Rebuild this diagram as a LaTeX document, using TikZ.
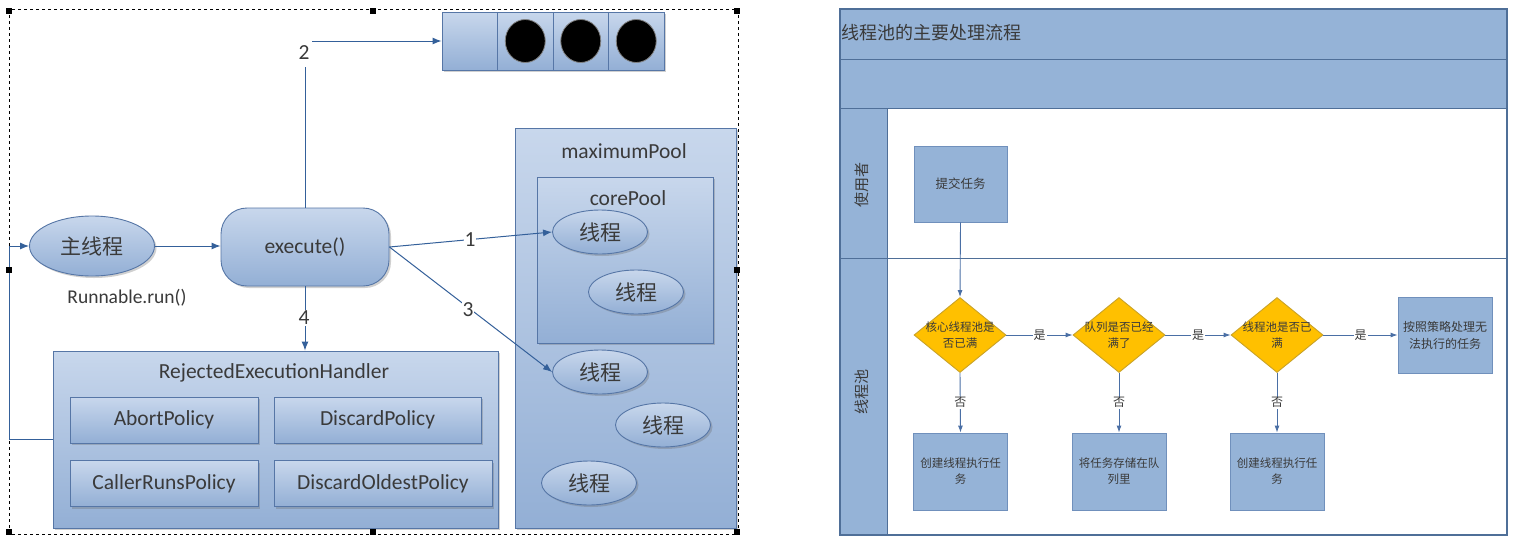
\documentclass[tikz,border=0pt]{standalone}
\usepackage{fontspec}
\setmainfont{Carlito}
\newfontfamily\cjk{Noto Sans CJK SC}
\usetikzlibrary{shapes.geometric,arrows.meta,shadows}
\definecolor{lt}{HTML}{C8D7EC}
\definecolor{dk}{HTML}{93AFD5}
\definecolor{bordc}{HTML}{5676A6}
\definecolor{arrc}{HTML}{34609A}
\definecolor{txtc}{HTML}{3A3A3A}
\definecolor{band}{HTML}{95B3D7}
\definecolor{bandb}{HTML}{4F6F98}
\definecolor{rbox}{HTML}{95B3D7}
\definecolor{rboxb}{HTML}{7090BC}
\definecolor{amber}{HTML}{FFC000}
\definecolor{amberb}{HTML}{C9A227}
\definecolor{rarr}{HTML}{4A6FA5}
\begin{document}
\begin{tikzpicture}[x=1pt,y=-1pt,
  shd/.style={drop shadow={shadow xshift=2pt,shadow yshift=-2pt,opacity=0.3,fill=black!60}},
  lfont/.style={font=\fontsize{21.5}{24}\selectfont},
  bbox/.style={draw=bordc,line width=0.9pt,top color=lt,bottom color=dk,shd,text=txtc,inner sep=0pt},
  lbox/.style={bbox,rectangle,lfont},
  thr/.style={bbox,ellipse,minimum width=95pt,minimum height=44pt,font=\cjk\fontsize{21}{24}\selectfont},
  arr/.style={draw=arrc,line width=1pt,-{Latex[length=9pt,width=7pt]}},
  num/.style={fill=white,text=txtc,lfont,inner sep=1pt},
  handle/.style={fill=black,minimum size=6pt,inner sep=0pt},
  ball/.style={ellipse,fill=black,draw=black!50,line width=0.8pt,minimum width=40pt,minimum height=43pt,inner sep=0pt},
  rb/.style={rectangle,fill=rbox,draw=rboxb,line width=0.9pt,text=txtc,align=center,inner sep=2pt,font=\cjk\fontsize{11.5}{16}\selectfont},
  dia/.style={diamond,fill=amber,draw=amberb,line width=0.9pt,minimum width=92pt,minimum height=75pt,inner sep=0pt},
  dtxt/.style={text=txtc,align=center,font=\cjk\fontsize{11.5}{16}\selectfont},
  rarrow/.style={draw=rarr,line width=0.9pt,-{Latex[length=7pt,width=5pt]}},
  ylab/.style={fill=white,text=txtc,inner sep=1pt,font=\cjk\fontsize{12}{14}\selectfont}
]
\useasboundingbox[fill=white] (0,0) rectangle (1514,544);

% ---------- left diagram ----------
\draw[dashed,line width=0.7pt] (9,9) rectangle (738,534);

% queue
\node[bbox,minimum width=222pt,minimum height=58pt] (queue) at (553,41) {};
\node[draw=bordc,line width=0.9pt,minimum width=55.5pt,minimum height=58pt,inner sep=0pt] (q0) at (469.75,41) {};
\node[draw=bordc,line width=0.9pt,minimum width=55.5pt,minimum height=58pt,inner sep=0pt] (q1) at (525.25,41) {};
\node[draw=bordc,line width=0.9pt,minimum width=55.5pt,minimum height=58pt,inner sep=0pt] (q2) at (580.75,41) {};
\node[draw=bordc,line width=0.9pt,minimum width=55.5pt,minimum height=58pt,inner sep=0pt] (q3) at (636.25,41) {};
\node[ball] (b1) at (q1) {};
\node[ball] (b2) at (q2) {};
\node[ball] (b3) at (q3) {};

% pools
\node[bbox,minimum width=221pt,minimum height=400pt] (maxp) at (625.5,328) {};
\node[text=txtc,lfont] (maxl) at (624,151) {maximumPool};
\node[bbox,minimum width=176pt,minimum height=166pt] (core) at (625,260) {};
\node[text=txtc,lfont] (corel) at (628,198) {corePool};
\node[thr] (t1) at (600,232) {线程};
\node[thr] (t2) at (636,292) {线程};
\node[thr] (t3) at (600,372) {线程};
\node[thr] (t4) at (663,425) {线程};
\node[thr] (t5) at (589,483) {线程};

% main, execute
\node[bbox,ellipse,minimum width=125pt,minimum height=60pt,font=\cjk\fontsize{21}{24}\selectfont] (main) at (92,246) {主线程};
\node[text=txtc,font=\fontsize{19.5}{22}\selectfont] (run) at (127,298) {Runnable.run()};
\node[bbox,rounded corners=26pt,minimum width=168pt,minimum height=78pt,lfont] (exec) at (305,247) {execute()};

% rejected handler
\node[bbox,minimum width=445pt,minimum height=177pt] (reh) at (275.5,439.5) {};
\node[text=txtc,lfont] (rehl) at (274,373) {RejectedExecutionHandler};
\node[lbox,minimum width=188pt,minimum height=46pt] (abort) at (164,420) {AbortPolicy};
\node[lbox,minimum width=207pt,minimum height=46pt] (discard) at (377.5,420) {DiscardPolicy};
\node[lbox,minimum width=188pt,minimum height=46pt] (caller) at (164,483.5) {CallerRunsPolicy};
\node[lbox,minimum width=218pt,minimum height=46pt] (oldest) at (383,483.5) {DiscardOldestPolicy};

% connectors
\draw[arr] (main.east) -- (main.east -| exec.west);
\draw[arr] (exec.north) |- (queue.west);
\node[num,minimum height=28pt,minimum width=15pt] (n2) at (304,53) {2};
\draw[arr] (exec.east) -- (t1.west);
\node[num] (n1) at (470,240) {1};
\draw[arr] (exec.east) -- (t3.west);
\node[num] (n3) at (468,310) {3};
\draw[arr] (exec.south) -- (exec.south |- reh.north);
\node[num] (n4) at (304,318) {4};
\draw[arr] (reh.west) -- (9,439.5) |- (main.west);

% selection handles
\node[handle] (h1) at (9,11) {};
\node[handle] (h2) at (373,11) {};
\node[handle] (h3) at (737,11) {};
\node[handle] (h4) at (9,270) {};
\node[handle] (h5) at (737,270) {};
\node[handle] (h6) at (9,532) {};
\node[handle] (h7) at (373,532) {};
\node[handle] (h8) at (737,532) {};

% ---------- right diagram ----------
\draw[fill=white,draw=bandb,line width=1pt] (840,9) rectangle (1507,535);
\fill[band] (840,9) rectangle (1507,108);
\fill[band] (840,108) rectangle (887,535);
\draw[bandb,line width=1pt] (840,59) -- (1507,59);
\draw[bandb,line width=1pt] (840,108) -- (1507,108);
\draw[bandb,line width=1pt] (840,258) -- (1507,258);
\draw[bandb,line width=1pt] (887,108) -- (887,535);
\draw[bandb,line width=1.2pt] (840,9) rectangle (1507,535);
\node[anchor=west,text=txtc,font=\cjk\fontsize{18}{20}\selectfont,inner sep=0pt] (title) at (841,33) {线程池的主要处理流程};
\node[rotate=90,text=txtc,font=\cjk\fontsize{15}{18}\selectfont] (user) at (862,185) {使用者};
\node[rotate=90,text=txtc,font=\cjk\fontsize{15}{18}\selectfont] (pool) at (862,392) {线程池};

\node[rb,minimum width=93pt,minimum height=76pt,font=\cjk\fontsize{12.5}{16}\selectfont] (submit) at (960.5,184) {提交任务};

\node[dia] (d1) at (960,335) {};
\node[dtxt] (d1t) at (d1) {核心线程池是\\否已满};
\node[dia] (d2) at (1119,335) {};
\node[dtxt] (d2t) at (d2) {队列是否已经\\满了};
\node[dia] (d3) at (1277,335) {};
\node[dtxt] (d3t) at (d3) {线程池是否已\\满};
\node[rb,minimum width=94pt,minimum height=76pt,text width=88pt,font=\cjk\fontsize{12}{17}\selectfont] (policy) at (1445,335) {按照策略处理无\\法执行的任务};

\node[rb,minimum width=94pt,minimum height=77pt,text width=88pt] (c1) at (960.5,471.5) {创建线程执行任\\务};
\node[rb,minimum width=94pt,minimum height=77pt,text width=88pt] (c2) at (1119,471.5) {将任务存储在队\\列里};
\node[rb,minimum width=94pt,minimum height=77pt,text width=88pt] (c3) at (1277,471.5) {创建线程执行任\\务};

\draw[rarrow] (submit.south) -- (d1.north);
\draw[rarrow] (d1.east) -- (d2.west) node[ylab,midway] (y1) {是};
\draw[rarrow] (d2.east) -- (d3.west) node[ylab,midway] (y2) {是};
\draw[rarrow] (d3.east) -- (policy.west) node[ylab,midway] (y3) {是};
\draw[rarrow] (d1.south) -- (c1.north) node[ylab,midway] (n1b) {否};
\draw[rarrow] (d2.south) -- (c2.north) node[ylab,midway] (n2b) {否};
\draw[rarrow] (d3.south) -- (c3.north) node[ylab,midway] (n3b) {否};
\end{tikzpicture}
\end{document}
